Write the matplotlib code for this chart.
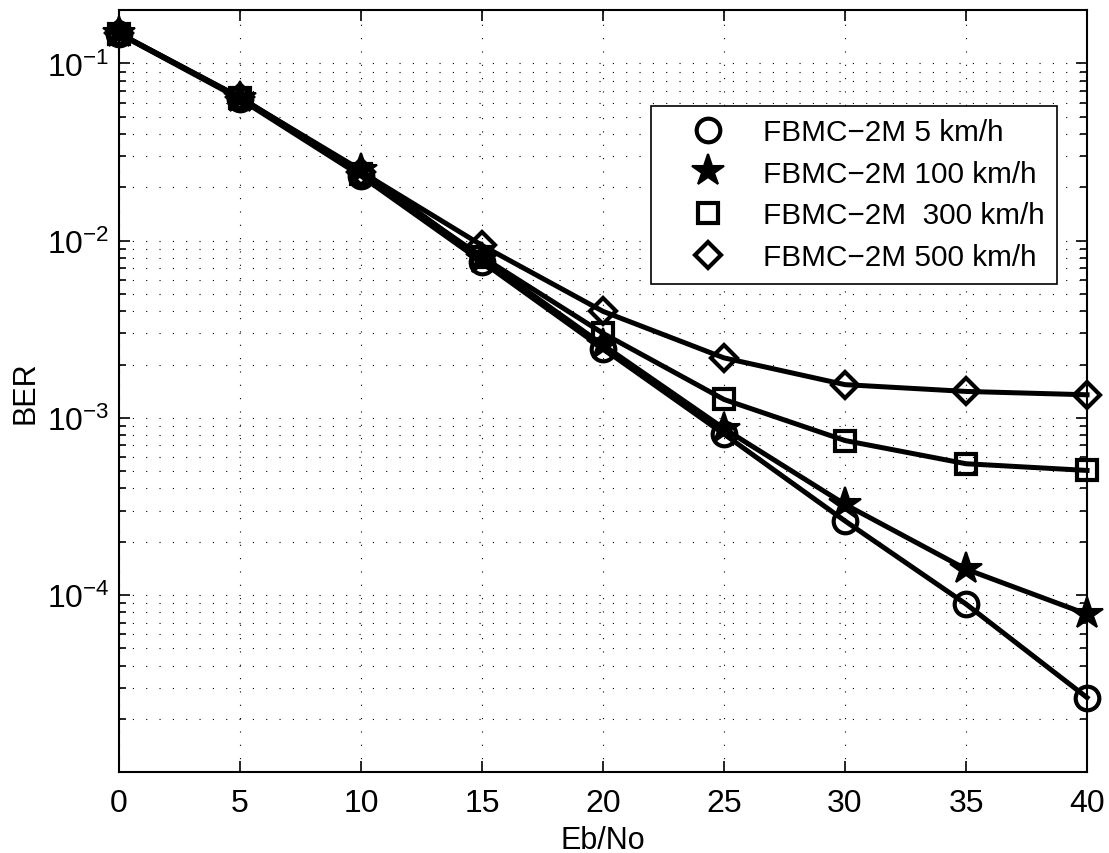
import matplotlib.pyplot as plt
from matplotlib.lines import Line2D
from matplotlib.ticker import LogLocator, NullFormatter, FixedLocator

plt.rcParams['font.family'] = ['Liberation Sans', 'DejaVu Sans']
plt.rcParams['mathtext.fontset'] = 'custom'
plt.rcParams['mathtext.rm'] = 'Liberation Sans'
plt.rcParams['mathtext.it'] = 'Liberation Sans:italic'
plt.rcParams['mathtext.bf'] = 'Liberation Sans:bold'

# data
ebno = [0, 5, 10, 15, 20, 25, 30, 35, 40]
ber_5 = [0.147, 0.063, 0.0232, 0.0076, 0.00246, 0.00081, 0.000262, 8.9e-5, 2.64e-5]
ber_100 = [0.148, 0.064, 0.0250, 0.0079, 0.00258, 0.00087, 0.000325, 1.40e-4, 7.8e-5]
ber_300 = [0.147, 0.064, 0.0238, 0.0081, 0.00300, 0.00127, 0.000745, 5.51e-4, 5.05e-4]
ber_500 = [0.148, 0.0645, 0.0245, 0.0094, 0.00399, 0.00218, 0.00154, 1.41e-3, 1.35e-3]
labels = ['FBMC\u22122M 5 km/h', 'FBMC\u22122M 100 km/h',
          'FBMC\u22122M  300 km/h', 'FBMC\u22122M 500 km/h']

styles = [
    dict(marker='o', markersize=17, markeredgewidth=3, markerfacecolor='none'),
    dict(marker='*', markersize=24, markeredgewidth=1.5, markerfacecolor='k'),
    dict(marker='s', markersize=14, markeredgewidth=3, markerfacecolor='none'),
    dict(marker='D', markersize=13, markeredgewidth=3, markerfacecolor='none'),
]

fig = plt.figure(figsize=(11.09, 8.54), dpi=100)
ax = fig.add_axes([0.1073, 0.0945, 0.8729, 0.8925])

for y, st in zip([ber_5, ber_100, ber_300, ber_500], styles):
    ax.semilogy(ebno, y, color='k', linewidth=3.6, markeredgecolor='k',
                clip_on=False, zorder=3, **st)

ax.set_xlim(0, 40)
ax.set_ylim(1e-5, 0.2)
ax.set_xticks(range(0, 41, 5))
ax.yaxis.set_major_locator(FixedLocator([1e-4, 1e-3, 1e-2, 1e-1]))
ax.yaxis.set_minor_locator(LogLocator(base=10, subs=range(2, 10), numticks=20))
ax.yaxis.set_minor_formatter(NullFormatter())

# matlab style dotted grid
ax.grid(True, which='major', color='k', linestyle=(0, (1, 11)), linewidth=0.8)
ax.grid(True, which='minor', axis='y', color='k', linestyle=(0, (1, 11)), linewidth=0.8)

ax.tick_params(which='both', direction='in', top=True, right=True, labelsize=23)
ax.tick_params(axis='x', pad=11)
ax.tick_params(axis='y', pad=7)
ax.tick_params(which='major', length=8, width=1.2)
ax.tick_params(which='minor', length=5, width=1.2)
for s in ax.spines.values():
    s.set_linewidth(1.5)
    s.set_zorder(4)

ax.set_xlabel('Eb/No', fontsize=22, labelpad=5)
ax.set_ylabel('BER', fontsize=22, labelpad=4)

handles = [Line2D([], [], linestyle='none', color='k', markeredgecolor='k', **st) for st in styles]
leg = ax.legend(handles, labels, loc='upper right', bbox_to_anchor=(0.969, 0.8747),
                borderaxespad=0, fontsize=21.4, frameon=True, fancybox=False,
                framealpha=1, edgecolor='k', handlelength=3.0, handletextpad=0.35,
                borderpad=0.42, labelspacing=0.46, markerscale=1.0)
leg.get_frame().set_linewidth(1.2)
leg.set_zorder(5)

fig.savefig('out.png', dpi=100)
